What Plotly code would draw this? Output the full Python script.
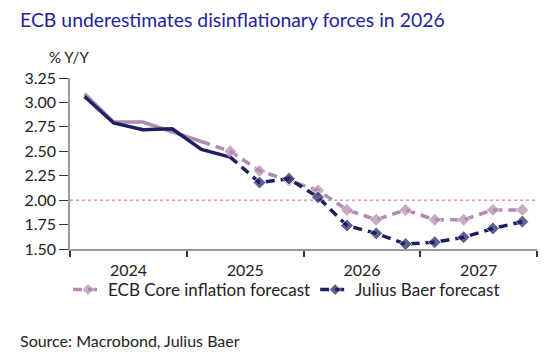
import plotly.graph_objects as go
import pandas as pd

quarters = ["2024Q1", "2024Q2", "2024Q3", "2024Q4",
            "2025Q1", "2025Q2", "2025Q3", "2025Q4",
            "2026Q1", "2026Q2", "2026Q3", "2026Q4",
            "2027Q1", "2027Q2", "2027Q3", "2027Q4"]
ecb_core = [3.09, 2.80, 2.80, 2.70, 2.60, 2.50, 2.30, 2.20,
            2.10, 1.90, 1.80, 1.90, 1.80, 1.80, 1.90, 1.90]
julius_baer = [3.06, 2.79, 2.72, 2.73, 2.52, 2.44, 2.18, 2.22,
               2.03, 1.74, 1.66, 1.55, 1.57, 1.62, 1.71, 1.78]
ecb_hist_n = 5   # solid through 2025Q1
jb_hist_n = 6    # solid through 2025Q2
y_ticks = [1.5, 1.75, 2.0, 2.25, 2.5, 2.75, 3.0, 3.25]
target = 2.0


def mid(q):
    p = pd.Period(q, freq="Q")
    return p.start_time + (p.end_time - p.start_time) / 2


x = [mid(q) for q in quarters]

PINK = "#b18aae"
NAVY = "#1b2060"
FONT = "Lato"
TXT = "#222222"

# the page body adds an 8px offset; lay out in page pixels and compensate
OFF = 8
W, H = 560 - OFF, 360 - OFF
PL, PR, PT, PB = 70, 537, 78, 249   # plot area in page pixels
ML, MT = PL - OFF, PT - OFF
PW, PH = PR - PL, PB - PT


def px(xp):
    return (xp - PL) / PW


def py(yp):
    return (PB - yp) / PH


fig = go.Figure()
fig.add_trace(go.Scatter(x=x[:ecb_hist_n], y=ecb_core[:ecb_hist_n], mode="lines",
                         line=dict(color=PINK, width=3.5), showlegend=False, hoverinfo="skip"))
fig.add_trace(go.Scatter(x=x[:jb_hist_n], y=julius_baer[:jb_hist_n], mode="lines",
                         line=dict(color=NAVY, width=3.5), showlegend=False, hoverinfo="skip"))
ecb_fx = x[ecb_hist_n - 1:]
fig.add_trace(go.Scatter(x=ecb_fx, y=ecb_core[ecb_hist_n - 1:], mode="lines+markers",
                         name="ECB Core inflation forecast",
                         line=dict(color=PINK, width=3.5, dash="9px,6px"),
                         marker=dict(symbol="diamond", size=[0] + [10] * (len(ecb_fx) - 1), color=PINK),
                         hoverinfo="skip"))
jb_fx = x[jb_hist_n - 1:]
fig.add_trace(go.Scatter(x=jb_fx, y=julius_baer[jb_hist_n - 1:], mode="lines+markers",
                         name="Julius Baer forecast",
                         line=dict(color=NAVY, width=3.5, dash="9px,6px"),
                         marker=dict(symbol="diamond", size=[0] + [10] * (len(jb_fx) - 1), color=NAVY),
                         hoverinfo="skip"))

fig.add_shape(type="line", xref="paper", yref="y", x0=0, x1=1, y0=target, y1=target,
              line=dict(color="#d0606a", width=1, dash="dot"), layer="below")

fig.update_layout(
    width=W, height=H,
    margin=dict(l=ML, r=W - ML - PW, t=MT, b=H - MT - PH, autoexpand=False),
    paper_bgcolor="white", plot_bgcolor="white",
    font=dict(family=FONT, size=15, color=TXT),
    title=dict(text="ECB underestimates disinflationary forces in 2026",
               xref="container", x=(20 - OFF) / W, xanchor="left",
               yref="container", y=1 - (20 - OFF) / H, yanchor="middle",
               font=dict(family=FONT, size=19.4, color="#2323a0")),
    legend=dict(orientation="h", xref="paper", yref="paper", x=px(68), xanchor="left",
                y=py(290), yanchor="middle", font=dict(size=17, color=TXT),
                itemwidth=30, bgcolor="rgba(0,0,0,0)"),
    showlegend=True,
)
fig.update_xaxes(type="date", range=["2024-01-01", "2028-01-01"],
                 tick0="2024-01-01", dtick="M12", tickformat="%Y", ticklabelmode="period",
                 showline=True, linecolor="#9a9a9a", linewidth=1.5,
                 ticks="outside", ticklen=6, tickcolor="#333333", tickwidth=1.5,
                 showgrid=False, zeroline=False, tickfont=dict(size=16), automargin=False)
fig.update_yaxes(range=[1.5, 3.25], tickvals=y_ticks, tickformat=".2f",
                 showline=True, linecolor="#9a9a9a", linewidth=1.5,
                 ticks="outside", ticklen=9, tickcolor="#333333", tickwidth=1.2,
                 showgrid=False, zeroline=False, tickfont=dict(size=16), automargin=False)

fig.add_annotation(text="% Y/Y", xref="paper", yref="paper",
                   x=px(47), y=py(57), xanchor="left", yanchor="middle",
                   showarrow=False, font=dict(size=15, color=TXT))
fig.add_annotation(text="Source: Macrobond, Julius Baer", xref="paper", yref="paper",
                   x=px(18), y=py(340), xanchor="left", yanchor="middle",
                   showarrow=False, font=dict(size=16, color=TXT))

fig.write_html("out.html")
